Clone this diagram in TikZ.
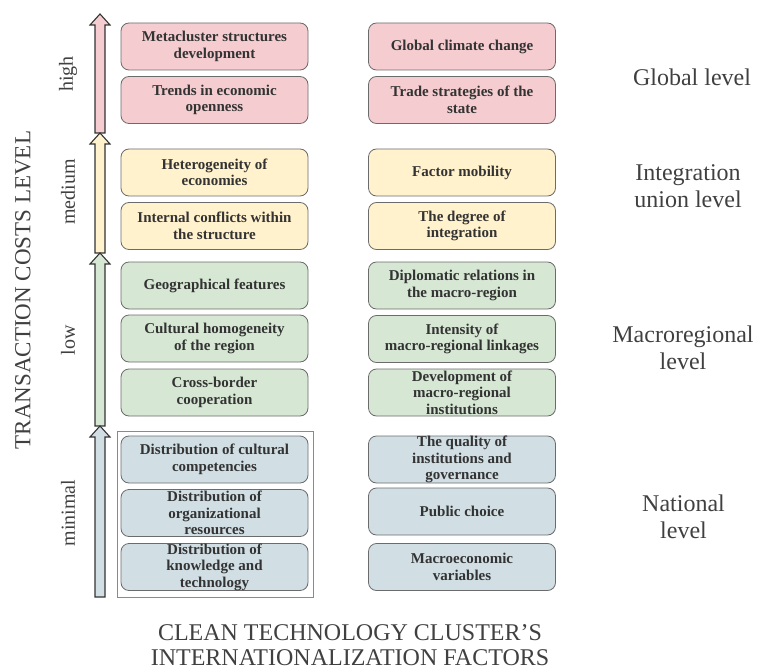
\documentclass[tikz,border=0pt]{standalone}
\usepackage{fontspec}
\setmainfont{Liberation Serif}
\definecolor{pinkc}{HTML}{F5CDD0}
\definecolor{yelc}{HTML}{FFF2CC}
\definecolor{grnc}{HTML}{D6E8D4}
\definecolor{bluc}{HTML}{D1DFE5}
\definecolor{bordc}{HTML}{6B6B6B}
\definecolor{txtc}{HTML}{333333}
\definecolor{lblc}{HTML}{404040}
\definecolor{arrc}{HTML}{333333}
\definecolor{framec}{HTML}{8A8A8A}
\tikzset{
  fbox/.style={draw=bordc, line width=0.8pt, rounded corners=8pt, minimum width=187pt, minimum height=47pt, inner sep=0pt, align=center, text=txtc, font=\bfseries\fontsize{15}{16.5}\selectfont},
  lvl/.style={align=center, text=lblc, font=\fontsize{24}{27}\selectfont, inner sep=0pt},
  cost/.style={rotate=90, text=lblc, font=\fontsize{20}{22}\selectfont, inner sep=0pt},
  uparrow/.style={draw=arrc, line width=1.1pt, line join=miter}
}
\begin{document}
\begin{tikzpicture}[x=1pt,y=-1pt]
\useasboundingbox (0,0) rectangle (757,671);
% arrows
\coordinate (a1t) at (100,14); \coordinate (a1b) at (100,133);
\coordinate (a2t) at (100,133); \coordinate (a2b) at (100,253);
\coordinate (a3t) at (100,253); \coordinate (a3b) at (100,426);
\coordinate (a4t) at (100,426); \coordinate (a4b) at (100,597);
\foreach \t/\b/\c in {a1t/a1b/pinkc, a2t/a2b/yelc, a3t/a3b/grnc, a4t/a4b/bluc}{
  \draw[uparrow, fill=\c] (\t) -- ([xshift=10pt,yshift=-11pt]\t) -- ([xshift=5pt,yshift=-11pt]\t)
    -- ([xshift=5pt]\b) -- ([xshift=-5pt]\b) -- ([xshift=-5pt,yshift=-11pt]\t)
    -- ([xshift=-10pt,yshift=-11pt]\t) -- cycle;
}
% frame round national left boxes
\draw[framec, line width=0.8pt] (117,431) rectangle (313,597);
% left column
\node[fbox, fill=pinkc] (l1) at (214.5,46.5) {Metacluster structures\\development};
\node[fbox, fill=pinkc] (l2) at (214.5,100) {Trends in economic\\openness};
\node[fbox, fill=yelc] (l3) at (214.5,172.5) {Heterogeneity of\\economies};
\node[fbox, fill=yelc] (l4) at (214.5,226) {Internal conflicts within\\the structure};
\node[fbox, fill=grnc] (l5) at (214.5,285.5) {Geographical features};
\node[fbox, fill=grnc] (l6) at (214.5,338.5) {Cultural homogeneity\\of the region};
\node[fbox, fill=grnc] (l7) at (214.5,392.5) {Cross-border\\cooperation};
\node[fbox, fill=bluc] (l8) at (214.5,459.5) {Distribution of cultural\\competencies};
\node[fbox, fill=bluc] (l9) at (214.5,513) {Distribution of\\organizational\\resources};
\node[fbox, fill=bluc] (l10) at (214.5,567) {Distribution of\\knowledge and\\technology};
% right column
\node[fbox, fill=pinkc] (r1) at (462,46.5) {Global climate change};
\node[fbox, fill=pinkc] (r2) at (462,100) {Trade strategies of the\\state};
\node[fbox, fill=yelc] (r3) at (462,172.5) {Factor mobility};
\node[fbox, fill=yelc] (r4) at (462,226) {The degree of\\integration};
\node[fbox, fill=grnc] (r5) at (462,285.5) {Diplomatic relations in\\the macro-region};
\node[fbox, fill=grnc] (r6) at (462,339) {Intensity of\\macro-regional linkages};
\node[fbox, fill=grnc] (r7) at (462,392.5) {Development of\\macro-regional\\institutions};
\node[fbox, fill=bluc] (r8) at (462,459.5) {The quality of\\institutions and\\governance};
\node[fbox, fill=bluc] (r9) at (462,511.5) {Public choice};
\node[fbox, fill=bluc] (r10) at (462,567) {Macroeconomic\\variables};
% level labels
\node[lvl] (g) at (692,77) {Global level};
\node[lvl] (iu) at (688,186) {Integration\\union level};
\node[lvl] (mr) at (683,348) {Macroregional\\level};
\node[lvl] (nl) at (683.5,517) {National\\level};
% cost labels
\node[cost] (ch) at (68,74) {high};
\node[cost] (cm) at (68,192) {medium};
\node[cost] (cl) at (68,340) {low};
\node[cost] (cn) at (68,513) {minimal};
\node[rotate=90, text=lblc, font=\fontsize{23}{25}\selectfont, inner sep=0pt] (tc) at (23,290) {TRANSACTION COSTS LEVEL};
% bottom title
\node[align=center, text=lblc, font=\fontsize{24}{25}\selectfont, inner sep=0pt] (title) at (350,645.5) {CLEAN TECHNOLOGY CLUSTER’S\\INTERNATIONALIZATION FACTORS};
\end{tikzpicture}
\end{document}
